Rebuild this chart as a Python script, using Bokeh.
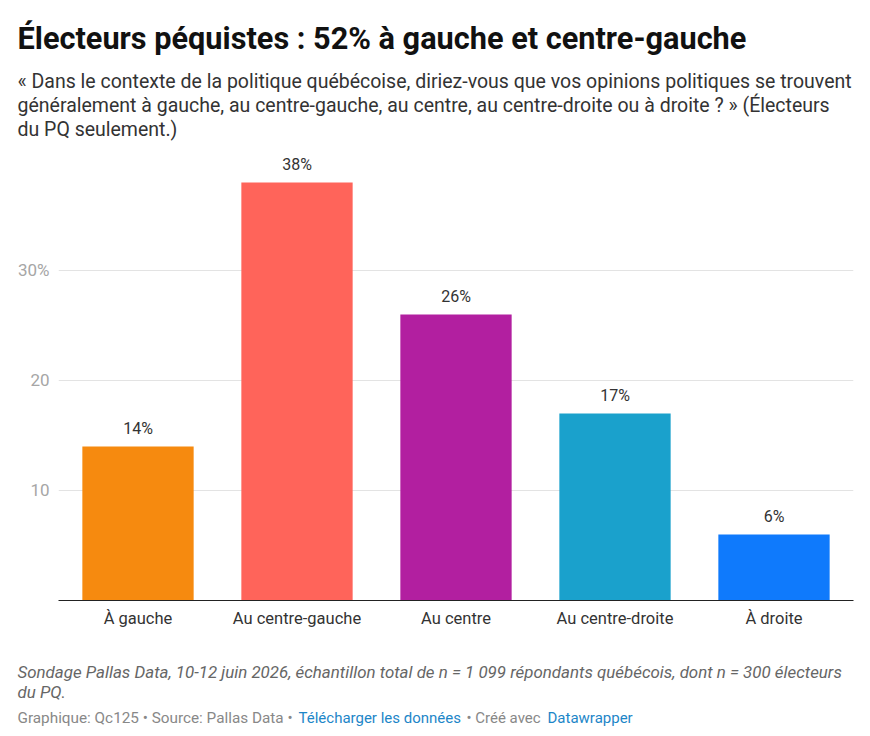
from bokeh.plotting import figure
from bokeh.models import ColumnDataSource, LabelSet, FixedTicker, Range1d
from bokeh.core.properties import value
from bokeh.embed import file_html
from bokeh.resources import INLINE

# Political self-placement of PQ voters
categories = ["À gauche", "Au centre-gauche", "Au centre", "Au centre-droite", "À droite"]
values = [14, 38, 26, 17, 6]
bar_colors = ["#F68A0F", "#FF645A", "#B21FA0", "#1AA1CC", "#0F7AFC"]
value_labels = [f"{v}%" for v in values]
y_ticks = [10, 20, 30]
y_tick_labels = {10: "10", 20: "20", 30: "30%"}

title_text = "Électeurs péquistes : 52% à gauche et centre-gauche"
subtitle_lines = [
    "« Dans le contexte de la politique québécoise, diriez-vous que vos opinions politiques se trouvent",
    "généralement à gauche, au centre-gauche, au centre, au centre-droite ou à droite ? » (Électeurs",
    "du PQ seulement.)",
]
note_lines = [
    "Sondage Pallas Data, 10-12 juin 2026, échantillon total de n = 1 099 répondants québécois, dont n = 300 électeurs",
    "du PQ.",
]
credit_parts = [
    "Graphique: Qc125 • Source: Pallas Data •",
    "Télécharger les données",
    "• Créé avec",
    "Datawrapper",
]

FONT = "Roboto"
W, H = 870, 736
LEFT, RIGHT, TOP, BOTTOM = 58, 17, 150, 136

# one slot per category, labelled on the x axis with the category name
slots = list(range(len(categories)))
source = ColumnDataSource(dict(slot=slots, val=values, color=bar_colors, lbl=value_labels))

p = figure(
    x_range=Range1d(-0.5, len(categories) - 0.5),
    y_range=Range1d(0, 40.9),
    width=W,
    height=H,
    title=None,
    min_border_left=LEFT,
    min_border_right=RIGHT,
    min_border_top=TOP,
    min_border_bottom=BOTTOM,
    toolbar_location=None,
    output_backend="svg",
    outline_line_color=None,
    background_fill_color="white",
    border_fill_color="white",
)

p.vbar(x="slot", top="val", width=0.7, fill_color="color", line_color=None, source=source)

p.add_layout(LabelSet(
    x="slot", y="val", text="lbl", source=source,
    y_offset=8, text_align="center", text_baseline="bottom",
    text_font=value(FONT), text_font_size="16px", text_color="#333333",
))

# y axis: labels only, light horizontal grid
p.yaxis.ticker = FixedTicker(ticks=y_ticks)
p.yaxis.major_label_overrides = y_tick_labels
p.yaxis.axis_line_color = None
p.yaxis.major_tick_line_color = None
p.yaxis.minor_tick_line_color = None
p.yaxis.major_label_standoff = 3
p.yaxis.major_label_text_font = FONT
p.yaxis.major_label_text_font_size = "17px"
p.yaxis.major_label_text_color = "#a6a6a6"
p.ygrid.grid_line_color = "#e3e3e3"
p.xgrid.grid_line_color = None

# x axis: dark baseline and category names
p.xaxis.ticker = FixedTicker(ticks=slots)
p.xaxis.major_label_overrides = dict(zip(slots, categories))
p.xaxis.axis_line_color = "#222222"
p.xaxis.axis_line_width = 1
p.xaxis.major_tick_line_color = None
p.xaxis.minor_tick_line_color = None
p.xaxis.major_label_standoff = 2
p.xaxis.major_label_text_font = FONT
p.xaxis.major_label_text_font_size = "16.5px"
p.xaxis.major_label_text_color = "#333333"

# pixel-space ranges for the header and footer texts (y grows downward)
p.extra_x_ranges = {"px": Range1d(LEFT, W - RIGHT)}
p.extra_y_ranges = {"px": Range1d(H - BOTTOM, TOP)}


def put(x, y, txt, size, color, style="normal"):
    p.text(x=[x], y=[y], text=[txt], x_range_name="px", y_range_name="px",
           level="overlay", text_font=value(FONT), text_font_size=size,
           text_color=color, text_font_style=style, text_align="left",
           text_baseline="alphabetic")


put(17, 38, title_text, "30.7px", "#111111", "bold")
for i, line in enumerate(subtitle_lines):
    put(17, 81 + i * 24, line, "19.5px", "#333333")
for i, line in enumerate(note_lines):
    put(17, 671 + i * 20, line, "16.9px", "#666666", "italic")

credit_x = [17, 298, 466, 547]
credit_colors = ["#888888", "#1D86C8", "#888888", "#1D86C8"]
credit_sizes = ["15.3px", "15px", "15px", "15px"]
for cx, txt, col, sz in zip(credit_x, credit_parts, credit_colors, credit_sizes):
    put(cx, 717, txt, sz, col)

open("out.html", "w").write(file_html(p, INLINE))
